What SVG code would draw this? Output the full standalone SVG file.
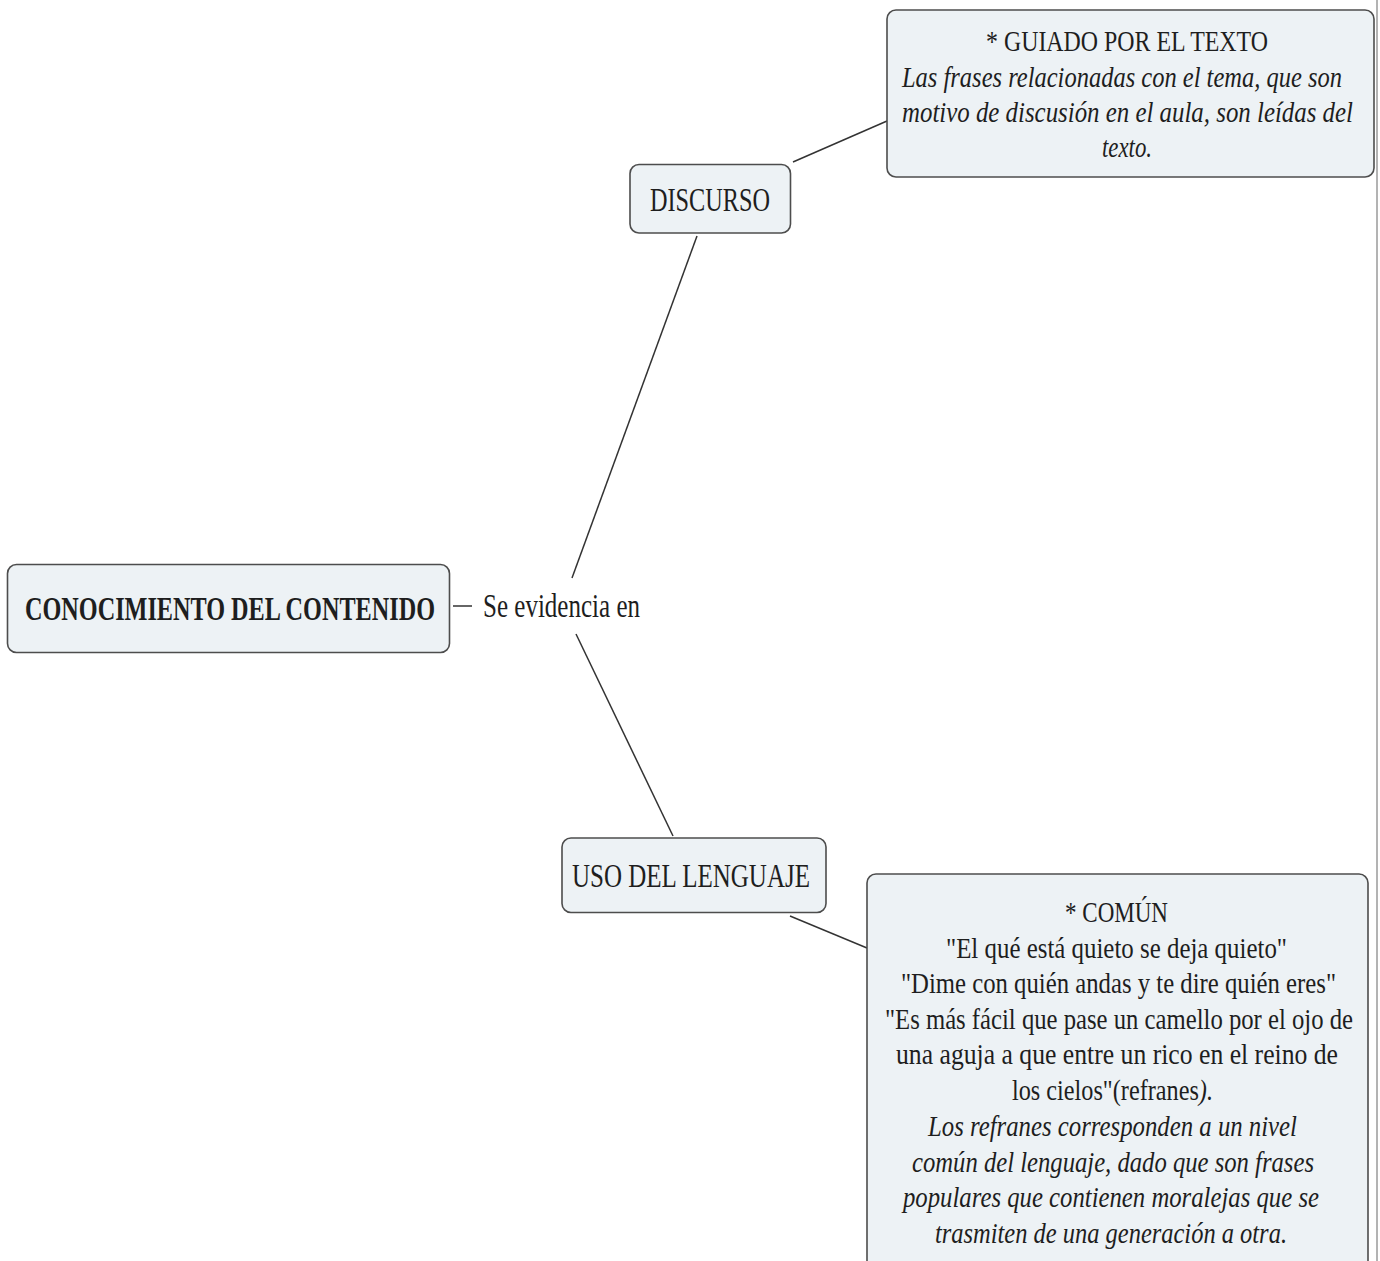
<svg xmlns="http://www.w3.org/2000/svg" width="1380" height="1261" viewBox="0 0 1380 1261">
  <style>
    .box { fill: #edf2f5; stroke: #4d4d4d; stroke-width: 1.6; }
    .lbl { font-family: "Liberation Serif", "DejaVu Serif", serif; fill: #1e1e1e; }
    .node { font-size: 33px; }
    .body { font-size: 30px; }
    .it { font-style: italic; }
    .link { stroke: #333; stroke-width: 1.5; fill: none; }
  </style>

  <rect width="1380" height="1261" fill="#ffffff"/>
  <!-- page edge -->
  <line x1="1377" y1="0" x2="1377" y2="1261" stroke="#9a9a9a" stroke-width="1.5"/>

  <g id="connectors">
    <line class="link" x1="697" y1="236" x2="572" y2="578"/>
    <line class="link" x1="576" y1="634" x2="673" y2="836"/>
    <line class="link" x1="793" y1="162" x2="887" y2="121"/>
    <line class="link" x1="790" y1="916" x2="867" y2="948"/>
    <line class="link" x1="453" y1="606" x2="472" y2="606"/>
  </g>

  <g id="node-conocimiento">
    <rect class="box" x="7.5" y="564.5" width="442" height="88" rx="9"/>
    <text class="lbl node" x="230" y="620" text-anchor="middle" font-weight="bold" textLength="410" lengthAdjust="spacingAndGlyphs">CONOCIMIENTO DEL CONTENIDO</text>
  </g>

  <g id="label-se-evidencia">
    <text class="lbl node" x="483" y="617" textLength="157" lengthAdjust="spacingAndGlyphs">Se evidencia en</text>
  </g>

  <g id="node-discurso">
    <rect class="box" x="630" y="164.5" width="160.5" height="68.5" rx="9"/>
    <text class="lbl node" x="710" y="211" text-anchor="middle" textLength="120" lengthAdjust="spacingAndGlyphs">DISCURSO</text>
  </g>

  <g id="node-uso">
    <rect class="box" x="562" y="838" width="264" height="74.5" rx="9"/>
    <text class="lbl node" x="691" y="887" text-anchor="middle" textLength="238" lengthAdjust="spacingAndGlyphs">USO DEL LENGUAJE</text>
  </g>

  <g id="node-guiado">
    <rect class="box" x="887" y="10" width="487" height="167" rx="9"/>
    <text class="lbl body" x="1127" y="51" text-anchor="middle" textLength="282" lengthAdjust="spacingAndGlyphs">* GUIADO POR EL TEXTO</text>
    <text class="lbl body it" x="1122" y="87" text-anchor="middle" textLength="440" lengthAdjust="spacingAndGlyphs">Las frases relacionadas con el tema, que son</text>
    <text class="lbl body it" x="1127.5" y="122" text-anchor="middle" textLength="451" lengthAdjust="spacingAndGlyphs">motivo de discusión en el aula, son leídas del</text>
    <text class="lbl body it" x="1127" y="157" text-anchor="middle" textLength="50" lengthAdjust="spacingAndGlyphs">texto.</text>
  </g>

  <g id="node-comun">
    <rect class="box" x="867" y="874" width="501" height="430" rx="9"/>
    <text class="lbl body" x="1116.5" y="922" text-anchor="middle" textLength="103" lengthAdjust="spacingAndGlyphs">* COMÚN</text>
    <text class="lbl body" x="1116.5" y="957.5" text-anchor="middle" textLength="341" lengthAdjust="spacingAndGlyphs">"El qué está quieto se deja quieto"</text>
    <text class="lbl body" x="1118.5" y="993" text-anchor="middle" textLength="435" lengthAdjust="spacingAndGlyphs">"Dime con quién andas y te dire quién eres"</text>
    <text class="lbl body" x="1119" y="1028.5" text-anchor="middle" textLength="468" lengthAdjust="spacingAndGlyphs">"Es más fácil que pase un camello por el ojo de</text>
    <text class="lbl body" x="1117" y="1064" text-anchor="middle" textLength="442" lengthAdjust="spacingAndGlyphs">una aguja a que entre un rico en el reino de</text>
    <text class="lbl body" x="1112.5" y="1100" text-anchor="middle" textLength="201" lengthAdjust="spacingAndGlyphs">los cielos"(refranes<tspan class="it">).</tspan></text>
    <text class="lbl body it" x="1112.5" y="1136" text-anchor="middle" textLength="369" lengthAdjust="spacingAndGlyphs">Los refranes corresponden a un nivel</text>
    <text class="lbl body it" x="1113" y="1171.5" text-anchor="middle" textLength="402" lengthAdjust="spacingAndGlyphs">común del lenguaje, dado que son frases</text>
    <text class="lbl body it" x="1111" y="1207" text-anchor="middle" textLength="416" lengthAdjust="spacingAndGlyphs">populares que contienen moralejas que se</text>
    <text class="lbl body it" x="1111" y="1243" text-anchor="middle" textLength="352" lengthAdjust="spacingAndGlyphs">trasmiten de una generación a otra.</text>
  </g>
</svg>
